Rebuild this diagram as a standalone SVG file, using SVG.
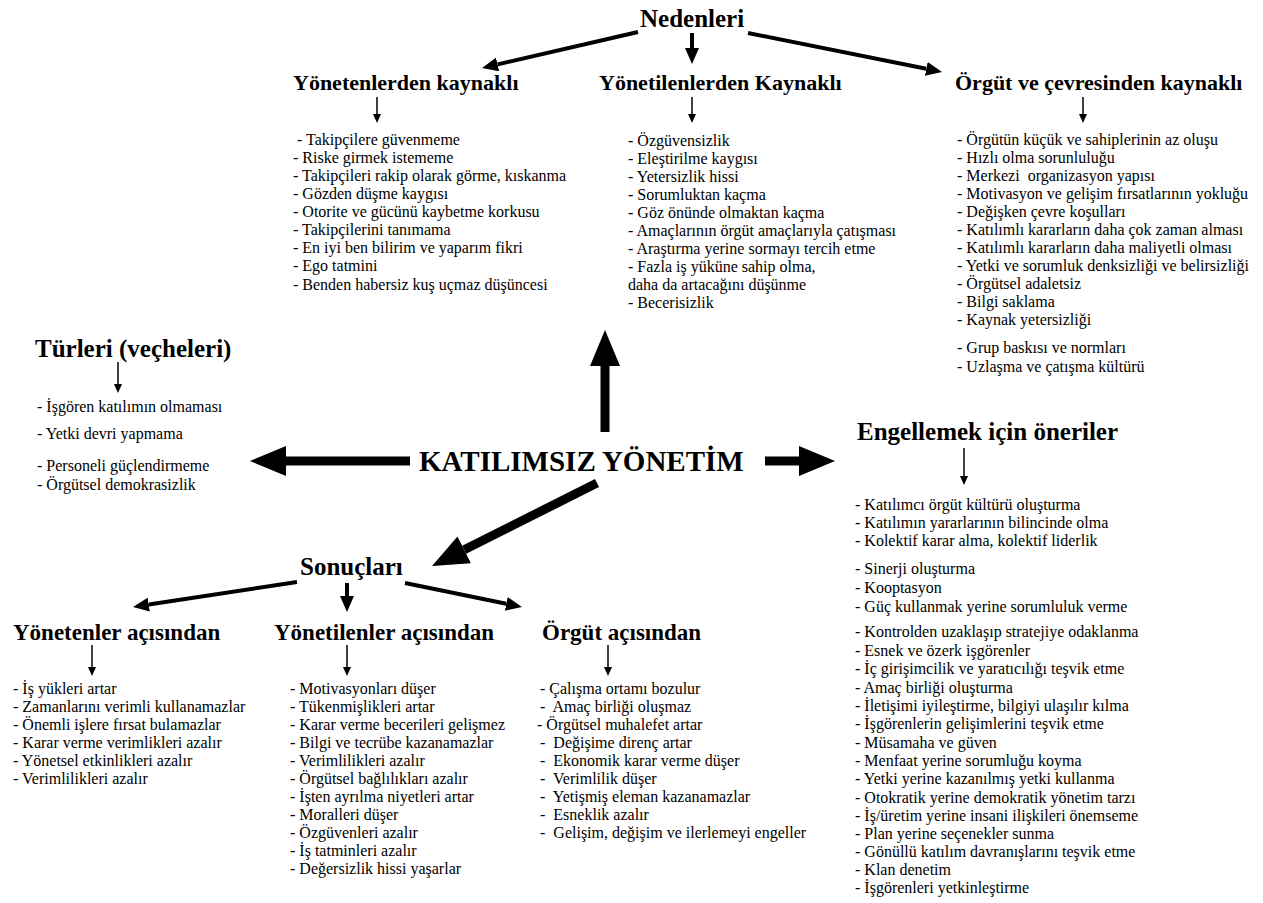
<svg xmlns="http://www.w3.org/2000/svg" width="1263" height="903" viewBox="0 0 1263 903">
<style>
text{font-family:"Liberation Serif","Times New Roman",serif;fill:#000}
.h1{font-size:25px;font-weight:bold}
.h2{font-size:22px;font-weight:bold}
.h3{font-size:23px;font-weight:bold}
.hc{font-size:29px;font-weight:bold}
.li{font-size:16px}
.big{stroke:#000;stroke-width:9;fill:none}
.med{stroke:#000;stroke-width:4;fill:none}
.sm{stroke:#000;stroke-width:1.5;fill:none}
</style>
<defs>
<marker id="hb" markerUnits="userSpaceOnUse" markerWidth="36" markerHeight="30" refX="0" refY="15" orient="auto"><path d="M0,0 L36,15 L0,30 z" fill="#000"/></marker>
<marker id="hm" markerUnits="userSpaceOnUse" markerWidth="16" markerHeight="14" refX="0" refY="7" orient="auto"><path d="M0,0 L16,7 L0,14 z" fill="#000"/></marker>
<marker id="hs" markerUnits="userSpaceOnUse" markerWidth="9" markerHeight="8" refX="0" refY="4" orient="auto"><path d="M0,0 L9,4 L0,8 z" fill="#000"/></marker>
</defs>
<rect width="1263" height="903" fill="#fff"/>

<g id="connectors">
<line class="big" x1="605" y1="432" x2="605" y2="366" marker-end="url(#hb)"/>
<line class="big" x1="410" y1="461" x2="286" y2="461" marker-end="url(#hb)"/>
<line class="big" x1="765" y1="461" x2="799" y2="461" marker-end="url(#hb)"/>
<line class="big" x1="597" y1="483" x2="464.2" y2="549.8" marker-end="url(#hb)"/>
<line class="med" x1="638" y1="32" x2="497.6" y2="64.4" marker-end="url(#hm)"/>
<line class="med" x1="692" y1="33" x2="692" y2="48" marker-end="url(#hm)"/>
<line class="med" x1="748" y1="33" x2="926.3" y2="68.8" marker-end="url(#hm)"/>
<line class="med" x1="297" y1="582" x2="148.8" y2="604.6" marker-end="url(#hm)"/>
<line class="med" x1="347" y1="583" x2="347" y2="596" marker-end="url(#hm)"/>
<line class="med" x1="405" y1="583" x2="506.3" y2="603.8" marker-end="url(#hm)"/>
<line class="sm" x1="377" y1="97" x2="377" y2="114" marker-end="url(#hs)"/>
<line class="sm" x1="692" y1="97" x2="692" y2="114" marker-end="url(#hs)"/>
<line class="sm" x1="1083" y1="97" x2="1083" y2="114" marker-end="url(#hs)"/>
<line class="sm" x1="118" y1="362" x2="118" y2="384" marker-end="url(#hs)"/>
<line class="sm" x1="964" y1="448" x2="964" y2="476" marker-end="url(#hs)"/>
<line class="sm" x1="92" y1="645" x2="92" y2="667" marker-end="url(#hs)"/>
<line class="sm" x1="347" y1="645" x2="347" y2="667" marker-end="url(#hs)"/>
<line class="sm" x1="608" y1="645" x2="608" y2="667" marker-end="url(#hs)"/>
</g>

<g id="center"><text class="hc" x="419" y="471">KATILIMSIZ YÖNETİM</text></g>

<g id="nedenleri"><text class="h1" x="640" y="27">Nedenleri</text></g>

<g id="yonetenlerden">
<text class="h2" x="293" y="90">Yönetenlerden kaynaklı</text>
<text class="li" x="297" y="145">- Takipçilere güvenmeme</text>
<text class="li" x="293" y="163">- Riske girmek istememe</text>
<text class="li" x="293" y="181">- Takipçileri rakip olarak görme, kıskanma</text>
<text class="li" x="293" y="199">- Gözden düşme kaygısı</text>
<text class="li" x="293" y="217">- Otorite ve gücünü kaybetme korkusu</text>
<text class="li" x="293" y="235">- Takipçilerini tanımama</text>
<text class="li" x="293" y="253">- En iyi ben bilirim ve yaparım fikri</text>
<text class="li" x="293" y="271">- Ego tatmini</text>
<text class="li" x="293" y="290">- Benden habersiz kuş uçmaz düşüncesi</text>
</g>

<g id="yonetilenlerden">
<text class="h2" x="599" y="90">Yönetilenlerden Kaynaklı</text>
<text class="li" x="628" y="146">- Özgüvensizlik</text>
<text class="li" x="628" y="164">- Eleştirilme kaygısı</text>
<text class="li" x="628" y="182">- Yetersizlik hissi</text>
<text class="li" x="628" y="200">- Sorumluktan kaçma</text>
<text class="li" x="628" y="218">- Göz önünde olmaktan kaçma</text>
<text class="li" x="628" y="236">- Amaçlarının örgüt amaçlarıyla çatışması</text>
<text class="li" x="628" y="254">- Araştırma yerine sormayı tercih etme</text>
<text class="li" x="628" y="272">- Fazla iş yüküne sahip olma,</text>
<text class="li" x="628" y="290">daha da artacağını düşünme</text>
<text class="li" x="628" y="308">- Becerisizlik</text>
</g>

<g id="orgut-cevre">
<text class="h2" x="955" y="90">Örgüt ve çevresinden kaynaklı</text>
<text class="li" x="957" y="145">- Örgütün küçük ve sahiplerinin az oluşu</text>
<text class="li" x="957" y="163">- Hızlı olma sorunluluğu</text>
<text class="li" x="957" y="181" xml:space="preserve">- Merkezi  organizasyon yapısı</text>
<text class="li" x="957" y="199">- Motivasyon ve gelişim fırsatlarının yokluğu</text>
<text class="li" x="957" y="217">- Değişken çevre koşulları</text>
<text class="li" x="957" y="235">- Katılımlı kararların daha çok zaman alması</text>
<text class="li" x="957" y="253">- Katılımlı kararların daha maliyetli olması</text>
<text class="li" x="957" y="271">- Yetki ve sorumluk denksizliği ve belirsizliği</text>
<text class="li" x="957" y="289">- Örgütsel adaletsiz</text>
<text class="li" x="957" y="307">- Bilgi saklama</text>
<text class="li" x="957" y="325">- Kaynak yetersizliği</text>
<text class="li" x="957" y="353">- Grup baskısı ve normları</text>
<text class="li" x="957" y="372">- Uzlaşma ve çatışma kültürü</text>
</g>

<g id="turleri">
<text class="h1" x="35" y="357">Türleri (veçheleri)</text>
<text class="li" x="37" y="412">- İşgören katılımın olmaması</text>
<text class="li" x="37" y="439">- Yetki devri yapmama</text>
<text class="li" x="37" y="471">- Personeli güçlendirmeme</text>
<text class="li" x="37" y="490">- Örgütsel demokrasizlik</text>
</g>

<g id="engellemek">
<text class="h1" x="857" y="440">Engellemek için öneriler</text>
<text class="li" x="855" y="510">- Katılımcı örgüt kültürü oluşturma</text>
<text class="li" x="855" y="528">- Katılımın yararlarının bilincinde olma</text>
<text class="li" x="855" y="546">- Kolektif karar alma, kolektif liderlik</text>
<text class="li" x="855" y="574">- Sinerji oluşturma</text>
<text class="li" x="855" y="593">- Kooptasyon</text>
<text class="li" x="855" y="612">- Güç kullanmak yerine sorumluluk verme</text>
<text class="li" x="855" y="637">- Kontrolden uzaklaşıp stratejiye odaklanma</text>
<text class="li" x="855" y="656">- Esnek ve özerk işgörenler</text>
<text class="li" x="855" y="674">- İç girişimcilik ve yaratıcılığı teşvik etme</text>
<text class="li" x="855" y="693">- Amaç birliği oluşturma</text>
<text class="li" x="855" y="711">- İletişimi iyileştirme, bilgiyi ulaşılır kılma</text>
<text class="li" x="855" y="729">- İşgörenlerin gelişimlerini teşvik etme</text>
<text class="li" x="855" y="748">- Müsamaha ve güven</text>
<text class="li" x="855" y="766">- Menfaat yerine sorumluğu koyma</text>
<text class="li" x="855" y="784">- Yetki yerine kazanılmış yetki kullanma</text>
<text class="li" x="855" y="803">- Otokratik yerine demokratik yönetim tarzı</text>
<text class="li" x="855" y="821">- İş/üretim yerine insani ilişkileri önemseme</text>
<text class="li" x="855" y="839">- Plan yerine seçenekler sunma</text>
<text class="li" x="855" y="857">- Gönüllü katılım davranışlarını teşvik etme</text>
<text class="li" x="855" y="875">- Klan denetim</text>
<text class="li" x="855" y="893">- İşgörenleri yetkinleştirme</text>
</g>

<g id="sonuclari"><text class="h1" x="300" y="575">Sonuçları</text></g>

<g id="yonetenler-acisindan">
<text class="h3" x="13" y="640">Yönetenler açısından</text>
<text class="li" x="13" y="694">- İş yükleri artar</text>
<text class="li" x="13" y="712">- Zamanlarını verimli kullanamazlar</text>
<text class="li" x="13" y="730">- Önemli işlere fırsat bulamazlar</text>
<text class="li" x="13" y="748">- Karar verme verimlikleri azalır</text>
<text class="li" x="13" y="766">- Yönetsel etkinlikleri azalır</text>
<text class="li" x="13" y="784">- Verimlilikleri azalır</text>
</g>

<g id="yonetilenler-acisindan">
<text class="h3" x="274" y="640">Yönetilenler açısından</text>
<text class="li" x="290" y="694">- Motivasyonları düşer</text>
<text class="li" x="290" y="712">- Tükenmişlikleri artar</text>
<text class="li" x="290" y="730">- Karar verme becerileri gelişmez</text>
<text class="li" x="290" y="748">- Bilgi ve tecrübe kazanamazlar</text>
<text class="li" x="290" y="766">- Verimlilikleri azalır</text>
<text class="li" x="290" y="784">- Örgütsel bağlılıkları azalır</text>
<text class="li" x="290" y="802">- İşten ayrılma niyetleri artar</text>
<text class="li" x="290" y="820">- Moralleri düşer</text>
<text class="li" x="290" y="838">- Özgüvenleri azalır</text>
<text class="li" x="290" y="856">- İş tatminleri azalır</text>
<text class="li" x="290" y="874">- Değersizlik hissi yaşarlar</text>
</g>

<g id="orgut-acisindan">
<text class="h3" x="542" y="640">Örgüt açısından</text>
<text class="li" x="540" y="694">- Çalışma ortamı bozulur</text>
<text class="li" x="540" y="712" xml:space="preserve">-  Amaç birliği oluşmaz</text>
<text class="li" x="537" y="730">- Örgütsel muhalefet artar</text>
<text class="li" x="540" y="748" xml:space="preserve">-  Değişime direnç artar</text>
<text class="li" x="540" y="766" xml:space="preserve">-  Ekonomik karar verme düşer</text>
<text class="li" x="540" y="784" xml:space="preserve">-  Verimlilik düşer</text>
<text class="li" x="540" y="802" xml:space="preserve">-  Yetişmiş eleman kazanamazlar</text>
<text class="li" x="540" y="820" xml:space="preserve">-  Esneklik azalır</text>
<text class="li" x="540" y="838" xml:space="preserve">-  Gelişim, değişim ve ilerlemeyi engeller</text>
</g>
</svg>
